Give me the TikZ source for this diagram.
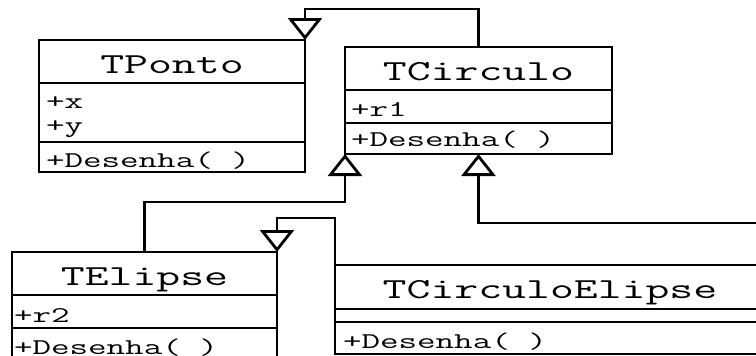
\documentclass[tikz,border=0pt]{standalone}
\usepackage{fontspec}
\usepackage{graphicx}
\usetikzlibrary{arrows.meta}
% wide typewriter lettering
\newcommand{\wide}[1]{\scalebox{1.6}[1]{#1}}
\begin{document}
\begin{tikzpicture}[x=1pt,y=-1pt,
  box/.style={draw, line width=2.8pt, rectangle, inner sep=0pt, outer sep=0pt, anchor=north west},
  titlebox/.style={box, font=\ttfamily\fontsize{29}{29}\selectfont, text height=23pt, text depth=0pt},
  member/.style={anchor=base west, inner sep=0pt, outer sep=0pt, font=\ttfamily\fontsize{22.5}{22.5}\selectfont},
  inherit/.style={line width=2.8pt, -{Triangle[open, length=22pt 0 0, width=34pt 0 0]}},
]
\useasboundingbox (0,0) rectangle (756,356);
\clip (0,0) rectangle (756,356);

% TPonto
\node[titlebox, minimum width=266pt, minimum height=43pt] (tponto) at (39,40) {\wide{TPonto}};
\node[box, minimum width=266pt, minimum height=59pt] (tponto-a) at (tponto.south west) {};
\node[box, minimum width=266pt, minimum height=30pt] (tponto-m) at (tponto-a.south west) {};
\node[member] (tponto-x) at ([xshift=7pt, yshift=-25pt]tponto-a.north west) {\wide{+x}};
\node[member] (tponto-y) at ([xshift=7pt, yshift=-49pt]tponto-a.north west) {\wide{+y}};
\node[member] (tponto-d) at ([xshift=7pt, yshift=-25pt]tponto-m.north west) {\wide{+Desenha( )}};

% TCirculo
\node[titlebox, minimum width=267pt, minimum height=43pt] (tcirc) at (345,47) {\wide{TCirculo}};
\node[box, minimum width=267pt, minimum height=33pt] (tcirc-a) at (tcirc.south west) {};
\node[box, minimum width=267pt, minimum height=31pt] (tcirc-m) at (tcirc-a.south west) {};
\node[member] (tcirc-r) at ([xshift=6pt, yshift=-26pt]tcirc-a.north west) {\wide{+r1}};
\node[member] (tcirc-d) at ([xshift=6pt, yshift=-23pt]tcirc-m.north west) {\wide{+Desenha( )}};

% TElipse
\node[titlebox, minimum width=265pt, minimum height=43pt] (telipse) at (12,252) {\wide{TElipse}};
\node[box, minimum width=265pt, minimum height=33pt] (telipse-a) at (telipse.south west) {};
\node[box, minimum width=265pt, minimum height=52pt] (telipse-m) at (telipse-a.south west) {};
\node[member] (telipse-r) at ([xshift=2pt, yshift=-27pt]telipse-a.north west) {\wide{+r2}};
\node[member] (telipse-d) at ([xshift=2pt, yshift=-26pt]telipse-m.north west) {\wide{+Desenha( )}};

% TCirculoElipse
\node[titlebox, minimum width=430pt, minimum height=44pt] (tce) at (335,265) {\wide{TCirculoElipse}};
\node[box, minimum width=430pt, minimum height=13pt] (tce-a) at (tce.south west) {};
\node[box, minimum width=430pt, minimum height=32pt] (tce-m) at (tce-a.south west) {};
\node[member] (tce-d) at ([xshift=8pt, yshift=-26pt]tce-m.north west) {\wide{+Desenha( )}};

% generalisations
\coordinate (tce-out) at (780,223);
\draw[inherit] (tcirc.north) -- ++(0,-38) -| (tponto.north east);
\draw[inherit] (telipse.north) -- ++(0,-50) -| (tcirc-m.south west);
\draw[inherit] (tce.north west) -- ++(0,-47) -| (telipse.north east);
\draw[inherit] (tce-out) -| (tcirc-m.south);
\end{tikzpicture}
\end{document}
